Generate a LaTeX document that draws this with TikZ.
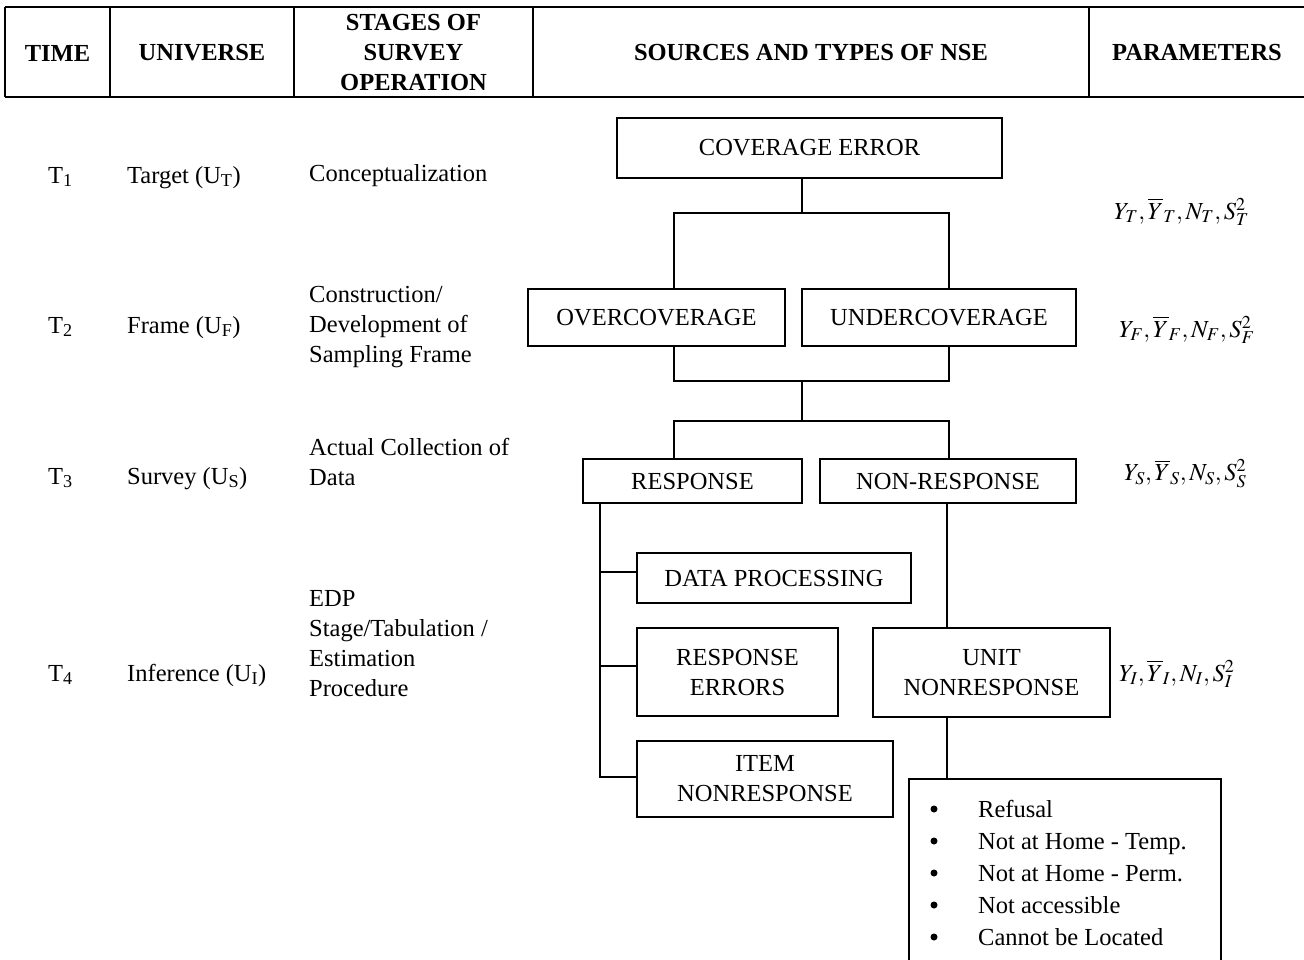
\documentclass[tikz,border=0pt]{standalone}
\usepackage{mathptmx}
\usepackage{fontspec}
\setmainfont{Liberation Serif}
\begin{document}
\begin{tikzpicture}[x=1pt,y=-1pt,
  every node/.style={font=\fontsize{24.5}{30}\selectfont, inner sep=0pt},
  ln/.style={line width=1.5pt},
  box/.style={draw, line width=1.5pt, align=center},
  lbl/.style={anchor=base west, align=left},
  stg/.style={anchor=west, align=left},
  hdr/.style={font=\fontsize{24.5}{30}\selectfont\bfseries, align=center},
  bul/.style={circle, fill, minimum size=7pt}]
\useasboundingbox (0,0) rectangle (1304,959);

% header table
\draw[ln] (5,7) -- (1304,7);
\draw[ln] (5,97) -- (1304,97);
\foreach \x in {5,110,294,533,1089} \draw[ln] (\x,7) -- (\x,97);
\node[hdr] (hTime)  at (57.5,53) {TIME};
\node[hdr] (hUni)   at (202,53) {UNIVERSE};
\node[hdr] (hStage) at (413.5,53) {STAGES OF\\SURVEY\\OPERATION};
\node[hdr] (hSrc)   at (811,53) {SOURCES AND TYPES OF NSE};
\node[hdr] (hPar)   at (1197,53) {PARAMETERS};

% time column
\node[lbl] (t1) at (48,183) {T\textsubscript{1}};
\node[lbl] (t2) at (48,333) {T\textsubscript{2}};
\node[lbl] (t3) at (48,484) {T\textsubscript{3}};
\node[lbl] (t4) at (48,681) {T\textsubscript{4}};
% universe column
\node[lbl] (u1) at (127,183) {Target (U\textsubscript{T})};
\node[lbl] (u2) at (127,333) {Frame (U\textsubscript{F})};
\node[lbl] (u3) at (127,484) {Survey (U\textsubscript{S})};
\node[lbl] (u4) at (127,681) {Inference (U\textsubscript{I})};
% stages column
\node[stg] (s1) at (309,176) {Conceptualization};
\node[stg] (s2) at (309,327) {Construction/\\Development of\\Sampling Frame};
\node[stg] (s3) at (309,462) {Actual Collection of\\Data};
\node[stg] (s4) at (309,644) {EDP\\Stage/Tabulation /\\Estimation\\Procedure};

% parameters
\node[anchor=west] (p1) at (1114,212) {$Y_T,\overline{Y}_T,N_T,S_T^2$};
\node[anchor=west] (p2) at (1119,330) {$Y_F,\overline{Y}_F,N_F,S_F^2$};
\node[anchor=west] (p3) at (1124,474) {$Y_S,\overline{Y}_S,N_S,S_S^2$};
\node[anchor=west] (p4) at (1119,674) {$Y_I,\overline{Y}_I,N_I,S_I^2$};

% tree boxes
\node[box, minimum width=385pt, minimum height=60pt] (cov) at (809.5,148) {COVERAGE ERROR};
\node[box, minimum width=257pt, minimum height=57pt] (over) at (656.5,317.5) {OVERCOVERAGE};
\node[box, minimum width=274pt, minimum height=57pt] (under) at (939,317.5) {UNDERCOVERAGE};
\node[box, minimum width=219pt, minimum height=44pt] (resp) at (692.5,481) {RESPONSE};
\node[box, minimum width=256pt, minimum height=44pt] (nonresp) at (948,481) {NON-RESPONSE};
\node[box, minimum width=274pt, minimum height=50pt] (dp) at (774,578) {DATA PROCESSING};
\node[box, minimum width=201pt, minimum height=88pt] (re) at (737.5,672) {RESPONSE\\ERRORS};
\node[box, minimum width=256pt, minimum height=76pt] (item) at (765,779) {ITEM\\NONRESPONSE};
\node[box, minimum width=237pt, minimum height=89pt] (unit) at (991.5,672.5) {UNIT\\NONRESPONSE};
\node[draw, line width=1.5pt, anchor=north west, minimum width=312pt, minimum height=200pt] (list) at (908,778) {};

% list items
\foreach \i/\t in {0/Refusal,1/Not at Home - Temp.,2/Not at Home - Perm.,3/Not accessible,4/Cannot be Located}{
  \node[bul] (b\i) at (934,809+32*\i) {};
  \node[lbl] (l\i) at (978,817+32*\i) {\t};
}

% connectors
\coordinate (aM) at (802,213);
\coordinate (aL) at (674,213);
\coordinate (aR) at (949,213);
\draw[ln] (cov.south -| aM) -- (aM);
\draw[ln] (over.north -| aL) -- (aL) -- (aR) -- (under.north -| aR);
\coordinate (cM) at (802,381);
\coordinate (cL) at (674,381);
\coordinate (cR) at (949,381);
\draw[ln] (over.south -| cL) -- (cL) -- (cR) -- (under.south -| cR);
\coordinate (dM) at (802,421);
\coordinate (dL) at (674,421);
\coordinate (dR) at (949,421);
\draw[ln] (cM) -- (dM);
\draw[ln] (resp.north -| dL) -- (dL) -- (dR) -- (nonresp.north -| dR);
\coordinate (sp) at (600,777);
\draw[ln] (resp.south -| sp) -- (sp) -- (item.west |- sp);
\draw[ln] ([yshift=6pt]dp.west) -- ++(-37,0);
\draw[ln] ([yshift=6pt]re.west) -- ++(-37,0);
\coordinate (nx) at (947,0);
\draw[ln] (nonresp.south -| nx) -- (unit.north -| nx);
\draw[ln] (unit.south -| nx) -- (list.north -| nx);
\end{tikzpicture}
\end{document}
